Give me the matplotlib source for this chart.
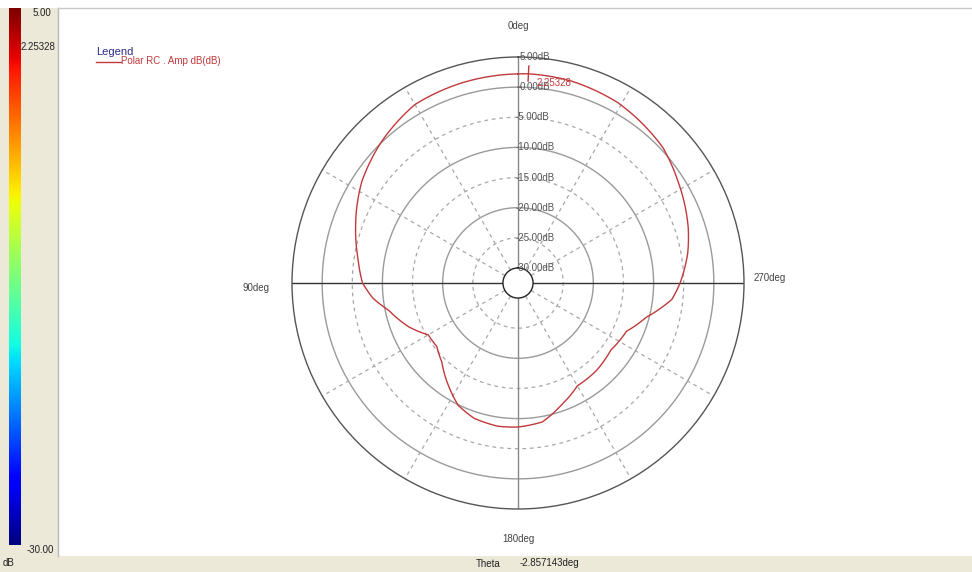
import numpy as np
import matplotlib
matplotlib.use("Agg")
import matplotlib.pyplot as plt
from matplotlib.patches import Rectangle

plt.rcParams['font.family'] = ['Liberation Sans', 'DejaVu Sans']

# pattern: angle (deg, CCW from top) and amplitude (dB)
theta_deg = [0, 15, 30, 44, 57, 71, 81, 90, 96, 102, 112, 120, 128, 136, 146,
             154, 162, 172, 180, 190, 199, 210, 222, 234, 246, 255, 264, 270,
             280, 288, 302, 313, 331, 345, 357.14, 360]
amp_db = [2.2, 2.0, 1.7, 0.1, -1.6, -4.0, -5.6, -6.7, -8.3, -10.6, -13.0, -15.3,
          -15.4, -14.3, -11.9, -9.9, -8.9, -8.5, -8.6, -9.1, -10.9, -12.8, -13.0,
          -13.5, -12.8, -10.5, -6.8, -5.6, -3.9, -2.8, -1.1, 0.4, 1.7, 2.15,
          2.25328, 2.2]

ring_levels = [5, 0, -5, -10, -15, -20, -25, -30]
solid_rings = [0, -10, -20]
dashed_rings = [-5, -15, -25]
spoke_deg = [30, 60, 120, 150, 210, 240, 300, 330]
max_theta = -2.857143
max_val = 2.25328
cbar_min, cbar_max = -30.00, 5.00

W, H = 972, 572
fig = plt.figure(figsize=(W / 100, H / 100), dpi=100)
fig.patch.set_facecolor("white")

beige = "#ece9d8"


def px(x, y):
    return x / W, 1 - y / H


# side panel and bottom strip
fig.patches.append(Rectangle(px(0, 556), 58 / W, 548 / H, transform=fig.transFigure,
                             facecolor=beige, edgecolor="none", zorder=-5))
fig.patches.append(Rectangle((0, 0), 1, 16 / H, transform=fig.transFigure,
                             facecolor=beige, edgecolor="none", zorder=-5))
fig.lines.append(plt.Line2D([58 / W, 58 / W], [16 / H, 1 - 8 / H], transform=fig.transFigure,
                            color="#b8b8b8", lw=1, zorder=-4))
fig.lines.append(plt.Line2D([58 / W, 1], [1 - 8 / H, 1 - 8 / H], transform=fig.transFigure,
                            color="#c8c8c8", lw=1, zorder=-4))

# colour scale
cax = fig.add_axes([9 / W, 1 - 545 / H, 12 / W, 537 / H])
grad = np.linspace(cbar_max, cbar_min, 256).reshape(-1, 1)
cax.imshow(grad, aspect="auto", cmap="jet", vmin=cbar_min, vmax=cbar_max,
           extent=[0, 1, cbar_min, cbar_max])
cax.set_axis_off()

fs = 7
fig.text(*px(42, 13), "%.2f" % cbar_max, fontsize=fs, ha="center", va="center", color="#222")
fig.text(*px(38, 47), "%.5f" % max_val, fontsize=fs, ha="center", va="center", color="#222")
fig.text(*px(40, 550), "%.2f" % cbar_min, fontsize=fs, ha="center", va="center", color="#222")
fig.text(*px(3, 563), "dB", fontsize=fs, ha="left", va="center", color="#222")
fig.text(*px(488, 564), "Theta", fontsize=fs, ha="center", va="center", color="#222")
fig.text(*px(520, 563), "%.6fdeg" % max_theta, fontsize=fs, ha="left", va="center", color="#222")

# legend
curve_color = "#c0393b"
fig.text(*px(96, 52), "Legend", fontsize=8, ha="left", va="center", color="#2b2b88")
fig.lines.append(plt.Line2D([96 / W, 121 / W], [1 - 62 / H, 1 - 62 / H], transform=fig.transFigure,
                            color=curve_color, lw=1))
fig.text(*px(121, 61), "Polar RC . Amp dB(dB)", fontsize=fs, ha="left", va="center", color=curve_color)

# polar plot
ax = fig.add_axes([(518 - 226) / W, (H - 283 - 226) / H, 452 / W, 452 / H], projection="polar")
ax.set_theta_zero_location("N")
ax.set_theta_direction(1)
ax.set_rorigin(-32.5)
ax.set_ylim(-30, 5)
ax.grid(False)
ax.set_xticks([])
ax.set_yticks([])
ax.set_facecolor("none")
ax.spines["polar"].set_color("#555555")
ax.spines["inner"].set_color("#222222")
for sp in ax.spines.values():
    sp.set_linewidth(1)

full = np.linspace(0, 2 * np.pi, 361)
for lvl in solid_rings:
    ax.plot(full, np.full_like(full, lvl), color="#9a9a9a", lw=1)
for lvl in dashed_rings:
    ax.plot(full, np.full_like(full, lvl), color="#a8a8a8", lw=0.9, ls=(0, (3, 3)))
for d in spoke_deg:
    ax.plot(np.radians([d, d]), [-30, 5], color="#a8a8a8", lw=0.9, ls=(0, (3, 3)))
for d in [0, 180]:
    ax.plot(np.radians([d, d]), [-30, 5], color="#888888", lw=1)
for d in [90, 270]:
    ax.plot(np.radians([d, d]), [-30, 5], color="#333333", lw=1)

# ring labels along the 0deg spoke
for lvl in ring_levels:
    ax.annotate("%.2fdB" % lvl, xy=(0, lvl), xytext=(-2 if lvl < 0 else 1, 0),
                textcoords="offset points", fontsize=fs, ha="left", va="center", color="#555555")
    if lvl >= 0:
        ax.annotate("", xy=(0, lvl), xytext=(2.5, 0), textcoords="offset points",
                    arrowprops=dict(arrowstyle="-", color="#555555", lw=0.8, shrinkA=0, shrinkB=0))

# angle labels
fig.text(*px(518, 26), "0deg", fontsize=fs, ha="center", va="center", color="#444")
fig.text(*px(256, 288), "90deg", fontsize=fs, ha="center", va="center", color="#444")
fig.text(*px(770, 278), "270deg", fontsize=fs, ha="center", va="center", color="#444")
fig.text(*px(518, 539), "180deg", fontsize=fs, ha="center", va="center", color="#444")

# curve, drawn as polar spirals between the read points
line, = ax.plot(np.radians(theta_deg), amp_db, color=curve_color, lw=1)
line.get_path()._interpolation_steps = 40

# max marker
ax.plot(np.radians([max_theta, max_theta]), [max_val - 1.2, max_val + 1.3],
        color=curve_color, lw=1)
fig.text(*px(537, 83), "%.5f" % max_val, fontsize=fs, ha="left", va="center", color=curve_color)

fig.savefig("out.png", dpi=100)
